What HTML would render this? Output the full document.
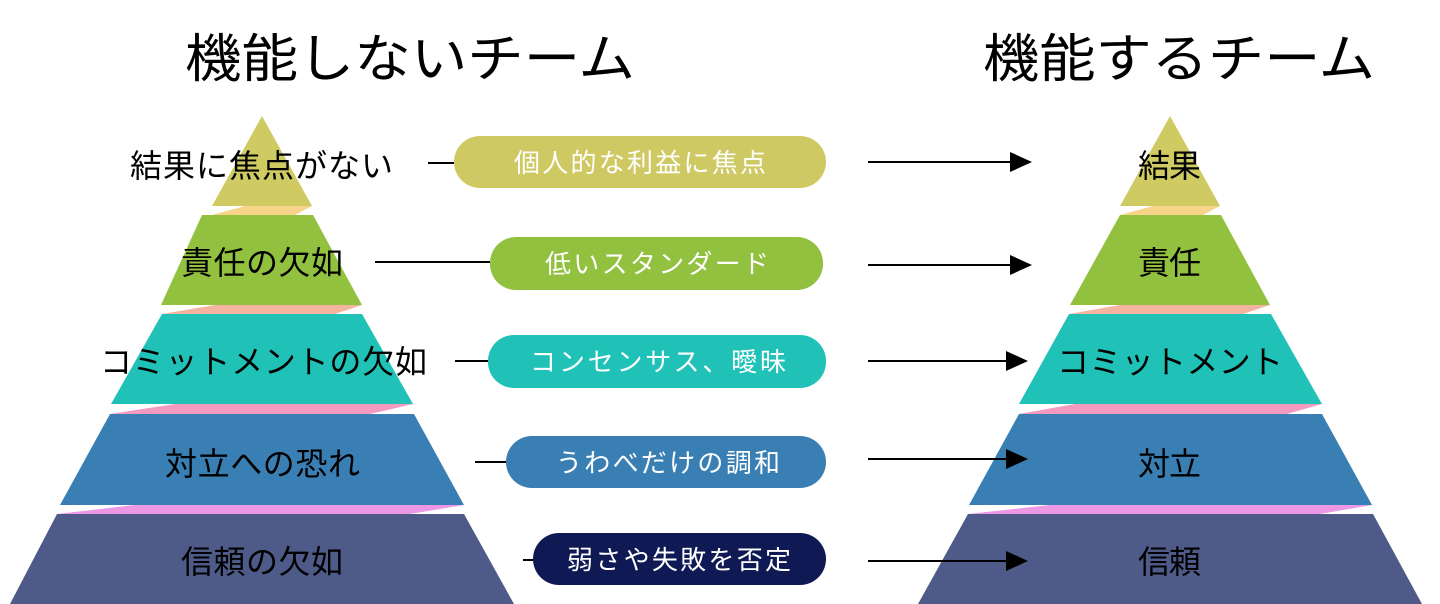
<!DOCTYPE html>
<html><head><meta charset="utf-8"><style>
html,body{margin:0;padding:0;background:#fff;width:1440px;height:604px;overflow:hidden}
svg{display:block}
text{font-family:"Liberation Sans","Noto Sans CJK JP",sans-serif}
</style></head><body>
<svg width="1440" height="604" viewBox="0 0 1440 604" xmlns="http://www.w3.org/2000/svg">
<text x="185" y="77" font-size="52" textLength="450" lengthAdjust="spacingAndGlyphs">機能しないチーム</text>
<text x="983" y="77" font-size="52" textLength="392" lengthAdjust="spacingAndGlyphs">機能するチーム</text>

<g>
<polygon points="262,116 312,206 212,206" fill="#cfcb62"/>
<polygon points="212,215 245,206 312,206 295,215" fill="#f7d48a"/>
<polygon points="202,215 313,215 362,305 161,305" fill="#92c03f"/>
<polygon points="162,314 215,305 362,305 335,314" fill="#f4b4a0"/>
<polygon points="162,314 362,314 413,404 111,404" fill="#20c2b8"/>
<polygon points="110,414 175,404 413,404 370,414" fill="#f49ac1"/>
<polygon points="110,414 414,414 464,505 60,505" fill="#3a7fb4"/>
<polygon points="57,514 135,505 464,505 410,514" fill="#ec98e4"/>
<polygon points="57,514 464,514 514,604 10,604" fill="#4e5a88"/>
</g>
<g>
<polygon points="1170,116 1220,206 1120,206" fill="#cfcb62"/>
<polygon points="1120,215 1153,206 1220,206 1203,215" fill="#f7d48a"/>
<polygon points="1120,215 1221,215 1270,305 1070,305" fill="#92c03f"/>
<polygon points="1069,314 1120,305 1270,305 1243,314" fill="#f4b4a0"/>
<polygon points="1069,314 1271,314 1322,404 1019,404" fill="#20c2b8"/>
<polygon points="1019,414 1075,404 1322,404 1287,414" fill="#f49ac1"/>
<polygon points="1019,414 1322,414 1372,505 969,505" fill="#3a7fb4"/>
<polygon points="968,514 1050,505 1372,505 1320,514" fill="#ec98e4"/>
<polygon points="968,514 1373,514 1422,604 918,604" fill="#4e5a88"/>
</g>

<g font-size="32" fill="#000" lengthAdjust="spacingAndGlyphs">
<text x="130" y="177" textLength="263">結果に焦点がない</text>
<text x="181" y="274" textLength="162">責任の欠如</text>
<text x="100" y="373" textLength="327">コミットメントの欠如</text>
<text x="165" y="475" textLength="195">対立への恐れ</text>
<text x="181" y="573" textLength="162">信頼の欠如</text>
<text x="1138" y="177" textLength="63">結果</text>
<text x="1138" y="274" textLength="63">責任</text>
<text x="1057" y="373" textLength="226">コミットメント</text>
<text x="1138" y="475" textLength="63">対立</text>
<text x="1138" y="573" textLength="63">信頼</text>
</g>

<g stroke="#000" stroke-width="2">
<line x1="428" y1="163" x2="454" y2="163"/>
<line x1="375" y1="262" x2="490" y2="262"/>
<line x1="455" y1="361" x2="488" y2="361"/>
<line x1="475" y1="462" x2="506" y2="462"/>
<line x1="523" y1="560" x2="533" y2="560"/>
<line x1="868" y1="162" x2="1016" y2="162"/>
<line x1="868" y1="265" x2="1016" y2="265"/>
<line x1="868" y1="361" x2="1012" y2="361"/>
<line x1="868" y1="459" x2="1012" y2="459"/>
<line x1="868" y1="561" x2="1012" y2="561"/>
</g>
<g fill="#000">
<polygon points="1010,152 1032,162 1010,172"/>
<polygon points="1010,255 1032,265 1010,275"/>
<polygon points="1006,351 1028,361 1006,371"/>
<polygon points="1006,449 1028,459 1006,469"/>
<polygon points="1006,551 1028,561 1006,571"/>
</g>

<rect x="454" y="136" width="372" height="52" rx="26" fill="#cfc964"/>
<rect x="490" y="237" width="333" height="53" rx="26" fill="#92c03f"/>
<rect x="488" y="335" width="338" height="53" rx="26" fill="#20c2b8"/>
<rect x="506" y="436" width="320" height="52" rx="26" fill="#3a7fb4"/>
<rect x="533" y="533" width="293" height="52" rx="26" fill="#0f1a55"/>
<g font-size="26" fill="#fff" lengthAdjust="spacingAndGlyphs">
<text x="514" y="172" textLength="252">個人的な利益に焦点</text>
<text x="545" y="273" textLength="224">低いスタンダード</text>
<text x="530" y="371" textLength="256">コンセンサス、曖昧</text>
<text x="556" y="472" textLength="224">うわべだけの調和</text>
<text x="567" y="569" textLength="224">弱さや失敗を否定</text>
</g>
</svg>
</body></html>
